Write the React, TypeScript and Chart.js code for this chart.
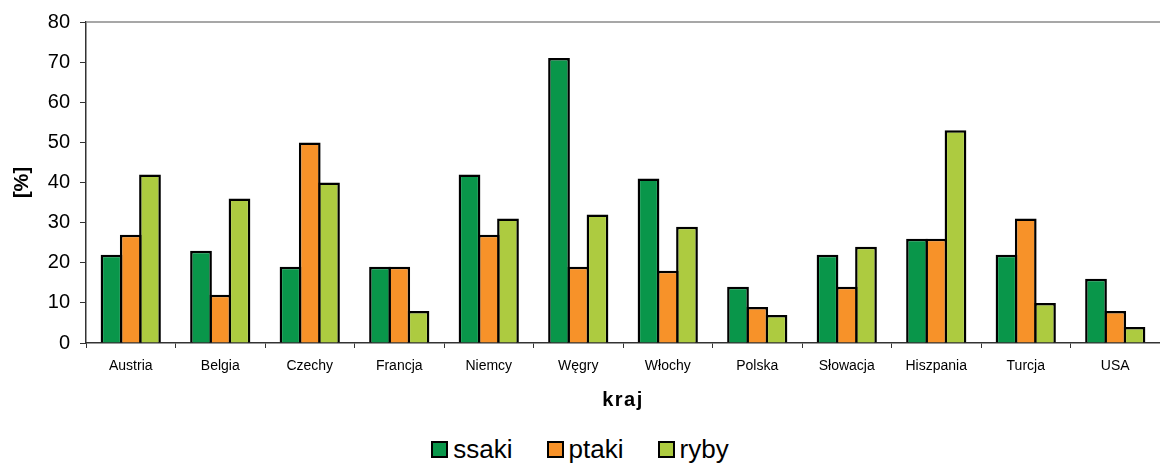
import React, { useEffect, useRef } from "react";
import { Chart, registerables } from "chart.js";

Chart.register(...registerables);

const categories = ["Austria", "Belgia", "Czechy", "Francja", "Niemcy", "Węgry", "Włochy", "Polska", "Słowacja", "Hiszpania", "Turcja", "USA"];
const seriesNames = ["ssaki", "ptaki", "ryby"];
const ssaki = [22, 23, 19, 19, 42, 71, 41, 14, 22, 26, 22, 16];
const ptaki = [27, 12, 50, 19, 27, 19, 18, 9, 14, 26, 31, 8];
const ryby = [42, 36, 40, 8, 31, 32, 29, 7, 24, 53, 10, 4];
const seriesColors = ["#09964A", "#F79229", "#ADCB40"];
const yTitle = "[%]";
const xTitle = "kraj";
const yMin = 0;
const yMax = 80;
const yStep = 10;

const FONT = "'Liberation Sans', Arial, sans-serif";

const topBorder = {
  id: "topBorder",
  afterLayout(chart: any) {
    const s = chart.scales.x;
    if (s && !s.__spaced) {
      const orig = s.drawTitle.bind(s);
      s.drawTitle = (...args: any[]) => {
        const ctx = s.ctx;
        const prev = ctx.letterSpacing;
        ctx.letterSpacing = "1.5px";
        orig(...args);
        ctx.letterSpacing = prev || "0px";
      };
      s.__spaced = true;
    }
  },
  afterDraw(chart: any) {
    const { ctx, chartArea } = chart;
    ctx.save();
    ctx.strokeStyle = "#8a8a8a";
    ctx.lineWidth = 1.5;
    ctx.beginPath();
    ctx.moveTo(chartArea.left, chartArea.top);
    ctx.lineTo(chartArea.right, chartArea.top);
    ctx.stroke();
    ctx.restore();
  },
};

export default function App() {
  const canvasRef = useRef<HTMLCanvasElement | null>(null);

  useEffect(() => {
    if (!canvasRef.current) return;
    const values = [ssaki, ptaki, ryby];
    const chart = new Chart(canvasRef.current, {
      type: "bar",
      data: {
        labels: categories,
        datasets: seriesNames.map((name, i) => ({
          label: name,
          data: values[i],
          backgroundColor: seriesColors[i],
          borderColor: "#000000",
          borderWidth: 2.5,
          borderSkipped: "start",
          categoryPercentage: 0.645,
          barPercentage: 1.13,
        })),
      },
      options: {
        responsive: true,
        maintainAspectRatio: false,
        animation: false,
        layout: { padding: { top: 20, left: 0, right: 0, bottom: 0 } },
        plugins: {
          legend: { display: false },
          tooltip: { enabled: false },
        },
        scales: {
          x: {
            offset: true,
            grid: {
              offset: true,
              drawOnChartArea: false,
              drawTicks: true,
              tickLength: 5,
              color: "#333333",
            },
            border: { display: true, color: "#333333", width: 1.5 },
            ticks: {
              color: "#000000",
              padding: 10,
              maxRotation: 0,
              autoSkip: false,
              font: { family: FONT, size: 14 },
            },
            title: {
              display: true,
              text: xTitle,
              color: "#000000",
              padding: { top: 4, bottom: 8 },
              font: { family: FONT, size: 20, weight: "bold" },
            },
            afterFit(scale: any) {
              scale.height = 77;
            },
          },
          y: {
            min: yMin,
            max: yMax,
            grid: {
              drawOnChartArea: false,
              drawTicks: true,
              tickLength: 6,
              color: "#333333",
            },
            border: { display: true, color: "#333333", width: 1.5 },
            ticks: {
              stepSize: yStep,
              color: "#000000",
              padding: 10,
              font: { family: FONT, size: 20 },
            },
            title: {
              display: true,
              text: yTitle,
              color: "#000000",
              padding: { top: 10, bottom: 0 },
              font: { family: FONT, size: 20, weight: "bold" },
            },
            afterFit(scale: any) {
              scale.width = 86;
            },
          },
        },
      },
      plugins: [topBorder],
    });
    return () => chart.destroy();
  }, []);

  return (
    <div style={{ position: "fixed", left: 0, top: 0, width: 1160, height: 463, background: "#ffffff", overflow: "hidden" }}>
      <div style={{ position: "absolute", left: 0, top: 0, width: 1160, height: 420 }}>
        <canvas ref={canvasRef} />
      </div>
      <div
        style={{
          position: "absolute",
          left: 0,
          top: 434,
          width: 1160,
          height: 30,
          display: "flex",
          justifyContent: "center",
          alignItems: "center",
          fontFamily: FONT,
          fontSize: 26,
          lineHeight: "30px",
          color: "#000000",
        }}
      >
        {seriesNames.map((name, i) => (
          <div key={name} style={{ display: "flex", alignItems: "center", marginLeft: i === 0 ? 0 : 34 }}>
            <span
              style={{
                display: "inline-block",
                width: 17,
                height: 17,
                boxSizing: "border-box",
                border: "2px solid #000000",
                background: seriesColors[i],
                marginRight: 5,
              }}
            />
            <span>{name}</span>
          </div>
        ))}
      </div>
    </div>
  );
}
